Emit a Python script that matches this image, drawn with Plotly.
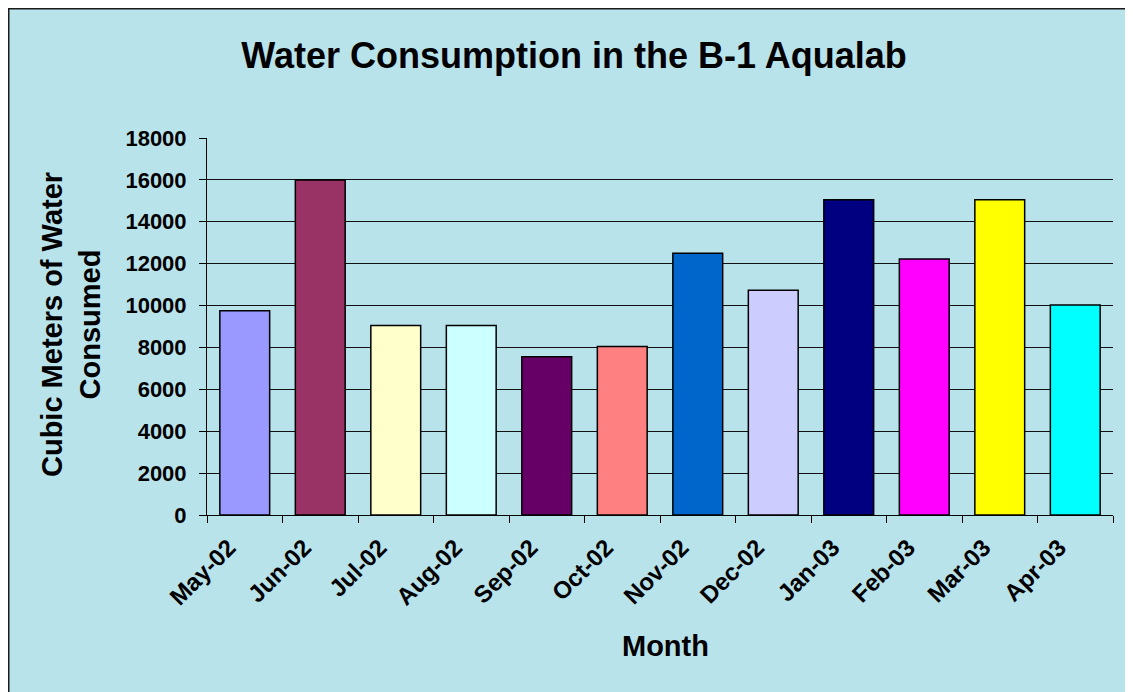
import plotly.graph_objects as go

months = ["May-02", "Jun-02", "Jul-02", "Aug-02", "Sep-02", "Oct-02",
          "Nov-02", "Dec-02", "Jan-03", "Feb-03", "Mar-03", "Apr-03"]
consumption = [9750, 16000, 9050, 9050, 7550, 8050,
               12500, 10730, 15050, 12220, 15050, 10030]
bar_colors = ["#9999FF", "#993366", "#FFFFCC", "#CCFFFF", "#660066", "#FF8080",
              "#0066CC", "#CCCCFF", "#000080", "#FF00FF", "#FFFF00", "#00FFFF"]
y_ticks = list(range(0, 18001, 2000))

# the page body has an 8px margin, so the figure is drawn 8px in and down
W, H = 1125, 684
L, R, T, B = 199, 20, 130, 177
pw, ph = W - L - R, H - T - B

def px(x):
    return (x - L) / pw

def py(y):
    return (H - B - y) / ph

fig = go.Figure(go.Bar(
    x=months, y=consumption,
    marker=dict(color=bar_colors, line=dict(color="black", width=1.5)),
    showlegend=False,
))

font_family = "Liberation Sans, Arial, sans-serif"

fig.update_layout(
    width=W, height=H,
    margin=dict(l=L, r=R, t=T, b=B, autoexpand=False),
    paper_bgcolor="#b9e3eb",
    plot_bgcolor="rgba(0,0,0,0)",
    bargap=0.34,
    font=dict(family=font_family, color="black"),
    title=dict(text="<b>Water Consumption in the B-1 Aqualab</b>",
               x=566 / W, xanchor="center", xref="container",
               y=1 - 47 / H, yanchor="middle", yref="container",
               font=dict(size=36, family=font_family, color="black")),
    shapes=[dict(type="rect", xref="paper", yref="paper",
                 x0=px(0), x1=px(W + 10), y0=py(0), y1=py(H + 10),
                 fillcolor="rgba(0,0,0,0)", line=dict(color="#1a1a1a", width=3),
                 layer="below")],
    annotations=[
        dict(text="<b>Cubic Meters of Water<br>Consumed</b>", textangle=-90,
             xref="paper", yref="paper", x=px(63), y=py(317),
             xanchor="center", yanchor="middle", showarrow=False,
             font=dict(size=29, family=font_family, color="black")),
        dict(text="<b>Month</b>",
             xref="paper", yref="paper", x=px(657), y=py(638),
             xanchor="center", yanchor="middle", showarrow=False,
             font=dict(size=29, family=font_family, color="black")),
    ],
)

fig.update_yaxes(
    range=[0, 18000], tickvals=y_ticks, ticktext=[str(v) for v in y_ticks],
    showgrid=True, gridcolor="#111111", gridwidth=1,
    showline=True, linecolor="black", linewidth=1,
    ticks="outside", ticklen=7, tickcolor="black",
    ticklabelstandoff=8,
    tickfont=dict(size=22, family=font_family, color="black", weight="bold"),
    zeroline=False, fixedrange=True,
)
fig.update_xaxes(
    showline=True, linecolor="black", linewidth=1,
    ticks="outside", ticklen=7, tickcolor="black", tickson="boundaries",
    tickangle=-45, ticklabelstandoff=8, ticklabelshift=-16,
    tickfont=dict(size=24, family=font_family, color="black", weight="bold"),
    showgrid=False, fixedrange=True,
)

fig.write_html("out.html")
